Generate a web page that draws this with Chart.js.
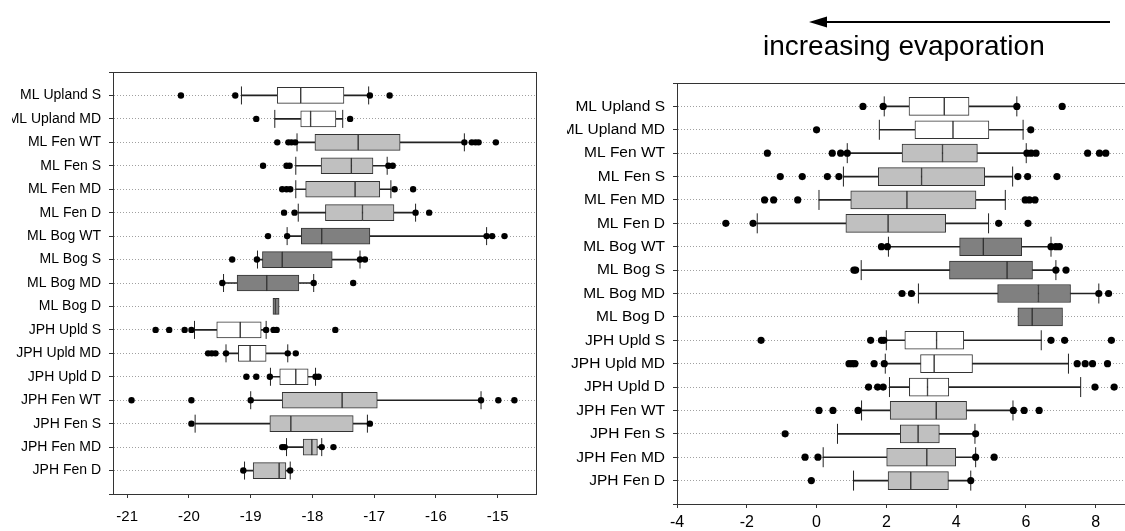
<!DOCTYPE html>
<html>
<head>
<meta charset="utf-8">
<script src="https://cdn.jsdelivr.net/npm/chart.js@4/dist/chart.umd.min.js"></script>
<style>
  html, body { margin: 0; padding: 0; background: #fff; overflow: hidden; }
  #wrap { position: relative; width: 1125px; height: 531px; overflow: hidden; background: #fff; }
  canvas { position: absolute; }
  #note { position: absolute; left: 763px; top: 32px; font: 28px "Liberation Sans", Arial, sans-serif; line-height: 28px; color: #000; white-space: nowrap; }
  #arrow { position: absolute; left: 0; top: 0; }
</style>
</head>
<body>
<div id="wrap">
  <canvas id="left" width="548" height="531" style="left:12px;top:0;"></canvas>
  <canvas id="right" width="592" height="531" style="left:567px;top:0;"></canvas>
  <svg id="arrow" width="1125" height="40">
    <line x1="824" y1="22" x2="1110" y2="22" stroke="#000" stroke-width="2"/>
    <polygon points="809,22 827,16.5 827,27.5" fill="#000"/>
  </svg>
  <div id="note">increasing evaporation</div>
</div>
<script>
// ---------- data ----------
const categories = ['ML Upland S','ML Upland MD','ML Fen WT','ML Fen S','ML Fen MD','ML Fen D',
  'ML Bog WT','ML Bog S','ML Bog MD','ML Bog D','JPH Upld S','JPH Upld MD','JPH Upld D',
  'JPH Fen WT','JPH Fen S','JPH Fen MD','JPH Fen D'];

// left panel
const leftWhiskerLow  = [-19.15,-18.61,-18.25,-18.27,-18.27,-18.23,-18.41,-18.89,-19.44,null,-19.91,-19.40,-18.68,-19.00,-19.90,-18.42,-19.10];
const leftQ1          = [-18.57,-18.19,-17.96,-17.86,-18.11,-17.79,-18.18,-18.81,-19.22,-18.64,-19.55,-19.20,-18.53,-18.49,-18.69,-18.15,-18.96];
const leftMedian      = [-18.19,-18.03,-17.26,-17.37,-17.31,-17.19,-17.85,-18.49,-18.74,-18.60,-19.17,-19.01,-18.27,-17.52,-18.35,-18.01,-18.54];
const leftQ3          = [-17.49,-17.62,-16.58,-17.02,-16.91,-16.68,-17.07,-17.68,-18.22,-18.54,-18.83,-18.75,-18.07,-16.95,-17.34,-17.92,-18.43];
const leftWhiskerHigh = [-17.09,-17.51,-15.54,-16.79,-16.73,-16.33,-15.18,-17.23,-17.98,null,-18.75,-18.40,-17.95,-15.27,-17.11,-17.85,-18.36];
const leftOutliers = [
  [-20.13,-19.25,-17.07,-16.75],
  [-18.91,-17.39],
  [-18.57,-18.39,-18.34,-18.28,-15.54,-15.42,-15.36,-15.31,-15.03],
  [-18.80,-18.42,-18.37,-16.77,-16.70],
  [-18.49,-18.42,-18.36,-16.67,-16.37],
  [-18.46,-18.29,-16.33,-16.11],
  [-18.72,-18.41,-15.18,-15.09,-14.89],
  [-19.30,-18.90,-17.23,-17.15],
  [-19.46,-17.98,-17.34],
  [],
  [-20.54,-20.32,-20.07,-19.96,-18.75,-18.63,-18.58,-17.63],
  [-19.69,-19.63,-19.57,-19.40,-18.40,-18.27],
  [-19.07,-18.91,-18.69,-17.95,-17.90],
  [-20.93,-19.96,-19.00,-15.27,-14.99,-14.73],
  [-19.96,-17.07],
  [-18.49,-18.45,-17.85,-17.66],
  [-19.12,-18.36]
];
const leftTicks = [-21,-20,-19,-18,-17,-16,-15];

// right panel
const rightWhiskerLow  = [1.94,1.80,0.88,0.77,0.07,-1.70,2.06,1.28,2.92,null,2.00,1.97,2.09,1.29,0.60,0.19,1.06];
const rightQ1          = [2.65,2.82,2.45,1.77,0.98,0.84,4.10,3.81,5.19,5.77,2.53,2.98,2.66,2.11,2.40,2.01,2.05];
const rightMedian      = [3.66,3.91,3.61,3.01,2.59,2.05,4.78,5.46,6.36,6.18,3.44,3.37,3.18,3.43,2.91,3.16,2.70];
const rightQ3          = [4.37,4.94,4.61,4.82,4.57,3.70,5.88,6.19,7.28,7.05,4.22,4.47,3.79,4.30,3.52,3.99,3.78];
const rightWhiskerHigh = [5.74,5.92,6.01,5.62,5.41,4.93,6.72,6.86,8.09,null,6.44,7.22,7.57,5.63,4.54,4.56,4.42];
const rightOutliers = [
  [1.33,1.91,5.74,7.04],
  [0.00,6.14],
  [-1.41,0.45,0.69,0.88,6.03,6.15,6.29,7.77,8.11,8.29],
  [-1.04,-0.41,0.31,0.64,5.77,6.05,6.89],
  [-1.49,-1.23,-0.54,5.98,6.10,6.26],
  [-2.60,-1.82,5.22,6.06],
  [1.86,2.03,6.72,6.86,6.96],
  [1.07,1.12,6.86,7.15],
  [2.45,2.72,8.09,8.37],
  [],
  [-1.59,1.55,1.86,1.93,6.72,7.11,8.45],
  [0.93,1.02,1.10,1.65,1.94,7.47,7.70,7.91,8.34],
  [1.49,1.75,1.91,7.98,8.53],
  [0.07,0.47,1.19,5.64,5.95,6.38],
  [-0.90,4.56],
  [-0.33,0.04,4.56,5.09],
  [-0.15,4.42]
];
const rightTicks = [-4,-2,0,2,4,6,8];

// ---------- styling helpers ----------
const FONT = '"Liberation Sans", Arial, sans-serif';
function fillFor(name) {
  if (/Bog/.test(name)) return '#808080';
  if (/Fen/.test(name)) return '#c0c0c0';
  return '#ffffff';
}

const framePlugin = {
  id: 'frame',
  afterDraw(chart) {
    const a = chart.chartArea, ctx = chart.ctx;
    ctx.save();
    ctx.strokeStyle = '#333';
    ctx.lineWidth = 1;
    ctx.strokeRect(Math.round(a.left) + 0.5, Math.round(a.top) + 0.5,
                   Math.round(a.right - a.left), Math.round(a.bottom - a.top));
    ctx.restore();
  }
};

function buildChart(id, g, d) {
  const idx = categories.map((c, i) => i);
  const withWhisk = idx.filter(i => d.wlo[i] !== null);
  const colors = categories.map(fillFor);

  const whiskers = {
    type: 'bar', indexAxis: 'y', grouped: false, order: 5,
    data: withWhisk.map(i => ({ y: i, x: [d.wlo[i], d.whi[i]] })),
    backgroundColor: '#222', borderWidth: 0, barThickness: 1
  };
  const boxLow = {
    type: 'bar', indexAxis: 'y', grouped: false, order: 4,
    data: idx.map(i => ({ y: i, x: [d.q1[i], d.med[i]] })),
    backgroundColor: idx.map(i => colors[i]), borderColor: '#333', borderWidth: 1,
    borderSkipped: false, barThickness: g.box
  };
  const boxHigh = {
    type: 'bar', indexAxis: 'y', grouped: false, order: 4,
    data: idx.map(i => ({ y: i, x: [d.med[i], d.q3[i]] })),
    backgroundColor: idx.map(i => colors[i]), borderColor: '#333', borderWidth: 1,
    borderSkipped: false, barThickness: g.box
  };
  const capPts = [];
  withWhisk.forEach(i => { capPts.push({ x: d.wlo[i], y: i }); capPts.push({ x: d.whi[i], y: i }); });
  const caps = {
    type: 'scatter', order: 2, data: capPts,
    pointStyle: 'line', rotation: 90, radius: g.cap, borderColor: '#222', borderWidth: 1
  };
  const outPts = [];
  idx.forEach(i => d.out[i].forEach(v => outPts.push({ x: v, y: i })));
  const outs = {
    type: 'scatter', order: 1, data: outPts,
    pointStyle: 'circle', radius: g.dot, backgroundColor: '#000', borderWidth: 0
  };

  return new Chart(document.getElementById(id), {
    type: 'bar',
    data: { datasets: [whiskers, boxLow, boxHigh, caps, outs] },
    options: {
      indexAxis: 'y',
      responsive: false,
      animation: false,
      devicePixelRatio: 1,
      layout: { padding: { top: g.top, right: g.padRight, bottom: 0, left: 0 } },
      plugins: { legend: { display: false }, tooltip: { enabled: false } },
      scales: {
        x: {
          type: 'linear', position: 'bottom', min: g.xmin, max: g.xmax, offset: false,
          afterBuildTicks: s => { s.ticks = d.ticks.map(v => ({ value: v })); },
          afterFit: s => { s.height = g.xAxisH; },
          grid: { offset: false, drawOnChartArea: false, drawTicks: true, tickLength: 4, tickColor: '#333', tickWidth: 1 },
          border: { display: true, color: '#333', width: 1 },
          ticks: { color: '#000', font: { family: FONT, size: g.tickFont }, padding: g.tickPad, maxRotation: 0, autoSkip: false }
        },
        y: {
          type: 'linear', position: 'left', min: -1, max: 17, reverse: true, offset: false,
          afterBuildTicks: s => { const t = []; for (let v = -1; v <= 17; v++) t.push({ value: v }); s.ticks = t; },
          afterFit: s => { s.width = g.yAxisW; },
          grid: {
            offset: false,
            color: c => (c.tick && c.tick.value >= 0 && c.tick.value <= 16) ? '#a0a0a0' : 'rgba(0,0,0,0)',
            tickColor: '#333', tickLength: 4, tickWidth: 1, tickBorderDash: [], lineWidth: 1
          },
          border: { display: true, color: '#333', width: 1, dash: [1, 2] },
          ticks: {
            color: '#000', font: { family: FONT, size: g.labelFont }, padding: 8, autoSkip: false,
            callback: v => (v >= 0 && v < categories.length) ? categories[v] : ''
          }
        }
      }
    },
    plugins: [framePlugin]
  });
}

buildChart('left',
  { top: 72, padRight: 24, xAxisH: 37, yAxisW: 101, xmin: -21.23, xmax: -14.38,
    box: 16, cap: 9, dot: 3.2, tickFont: 15, labelFont: 14, tickPad: 10 },
  { wlo: leftWhiskerLow, q1: leftQ1, med: leftMedian, q3: leftQ3, whi: leftWhiskerHigh,
    out: leftOutliers, ticks: leftTicks });

buildChart('right',
  { top: 83, padRight: 10, xAxisH: 27, yAxisW: 110, xmin: -4, xmax: 9.5,
    box: 18, cap: 10, dot: 3.6, tickFont: 16, labelFont: 15.5, tickPad: 5 },
  { wlo: rightWhiskerLow, q1: rightQ1, med: rightMedian, q3: rightQ3, whi: rightWhiskerHigh,
    out: rightOutliers, ticks: rightTicks });
</script>
</body>
</html>
